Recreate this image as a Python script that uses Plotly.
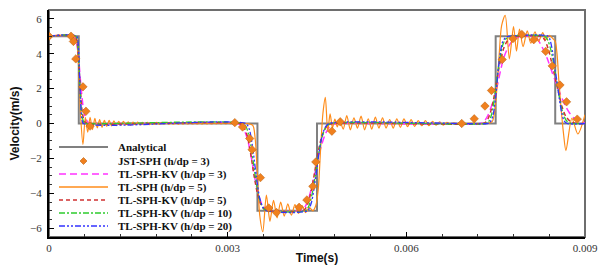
import plotly.graph_objects as go

# ---------------- data (time in microseconds, velocity in m/s) ----------------
ANALYTICAL_T = [0, 500, 500, 3500, 3500, 4500, 4500, 7500, 7500, 8500, 8500, 9000]
ANALYTICAL_V = [5, 5, 0, 0, -5, -5, 0, 0, 5, 5, 0, 0]

JST_T = [0, 370, 410, 450, 570, 620, 690, 3120, 3250, 3370, 3410, 3550, 3690, 3820,
         4200, 4330, 4430, 4480, 4750, 4890, 6930, 7140, 7320, 7430, 7610, 7790, 7940,
         8140, 8340, 8450, 8580, 8690, 8870]
JST_V = [5, 5, 4.7, 3.7, 2.1, 0.7, -0.15, 0.05, -0.2, -0.86, -1.5, -3.1, -4.84, -5.1,
         -4.8, -4.38, -3.6, -2.2, -0.44, 0.1, 0.0, 0.27, 1.0, 1.89, 3.66, 4.86, 5.1,
         4.8, 4.13, 3.3, 2.2, 1.24, 0.25]

KV3_T = [0, 420, 460, 500, 540, 580, 620, 670, 720, 3150, 3220, 3280, 3340, 3400, 3460,
         3520, 3580, 3640, 3720, 4200, 4280, 4340, 4400, 4460, 4520, 4580, 4640, 4700,
         4780, 4860, 7240, 7300, 7360, 7420, 7480, 7530, 7580, 7630, 7680, 7740, 7800,
         7880, 7960, 8150, 8200, 8260, 8320, 8380, 8440, 8500, 8560, 8620, 8680, 8740,
         8800, 8880, 9000]
KV3_V = [5, 5, 4.7, 3.6, 2.0, 0.8, 0.25, 0.03, 0, 0, -0.1, -0.4, -1.0, -2.0, -3.2,
         -4.1, -4.65, -4.9, -5, -5, -4.85, -4.5, -3.8, -2.9, -2.0, -1.2, -0.6, -0.25,
         -0.05, 0, 0, 0.1, 0.4, 0.9, 1.5, 2.2, 3.0, 3.7, 4.15, 4.55, 4.8,
         4.95, 5, 5, 4.85, 4.5, 4.1, 3.6, 3.0, 2.45, 1.9, 1.4, 0.95, 0.6,
         0.35, 0.15, 0.03]

TL_T = [0, 440, 470, 500, 530, 570, 610, 650, 690, 730, 770, 810, 850, 890, 930, 970,
        1010, 1050, 1090, 1130, 1170, 1210, 1250, 1290, 1330, 1370, 1410, 1450, 1490,
        1530, 1570, 1610, 1650, 1690, 1730, 1770, 1810, 1850, 1890, 1930, 1970, 2010,
        2050, 2090, 2130, 2170, 2210, 2250, 2290, 2330, 2370, 2410, 2450, 2490, 2530,
        2570, 2610, 2650, 2690, 2730, 2770, 2810, 2850, 2890, 2930, 2970, 3010, 3050,
        3100, 3150, 3300, 3420, 3460, 3500, 3540, 3590, 3650, 3710, 3770, 3830, 3890,
        3950, 4010, 4070, 4130, 4190, 4250, 4310, 4370, 4430, 4480, 4520, 4560, 4600,
        4640, 4680, 4720, 4760, 4800, 4840, 4880, 4940, 5000, 5060, 5120, 5180, 5240,
        5300, 5360, 5420, 5480, 5540, 5600, 5660, 5720, 5780, 5840, 5900, 5960, 6020,
        6080, 6140, 6200, 6260, 6320, 6380, 6440, 6500, 6560, 6620, 6680, 6740, 6800,
        6860, 6920, 6980, 7050, 7150, 7350, 7440, 7480, 7520, 7560, 7600, 7660, 7730,
        7800, 7850, 7900, 7960, 8030, 8090, 8160, 8220, 8290, 8340, 8400, 8450, 8500,
        8530, 8560, 8600, 8640, 8680, 8780, 8880, 9000]
TL_V = [5, 5, 4.7, 3.0, 0.5, -1.2, 0.35, -0.5, 0.35, -0.35, 0.3, -0.25, 0.22, -0.22, 0.18,
        -0.16, 0.18, -0.14, 0.15, -0.12, 0.12, -0.1, 0.12, -0.08, 0.09, -0.1, 0.08, -0.06,
        0.08, -0.08, 0.06, -0.05, 0.06, -0.06, 0.05, -0.04, 0.06, -0.05, 0.04, -0.04, 0.05,
        -0.04, 0.04, -0.04, 0.05, -0.04, 0.04, -0.04, 0.04, -0.03, 0.04, -0.03, 0.04,
        -0.03, 0.03, -0.03, 0.04, -0.02, 0.03, -0.03, 0.03, -0.02, 0.03, -0.02, 0.02,
        -0.02, 0.02, -0.01, 0.01, 0, 0, -0.1, -0.8, -3.0, -5.3, -6.2, -4.1, -5.6, -4.4,
        -5.4, -4.5, -5.3, -4.6, -5.25, -4.65, -5.15, -4.7, -5.1, -4.8, -5.0, -4.7, -3.8,
        -1.5, 0.6, 1.5, -0.45, 0.55, -0.25, 0.25, -0.2, 0.2, -0.32, 0.45, -0.36, 0.32, -0.26,
        0.42, -0.36, 0.27, -0.32, 0.36, -0.26, 0.32, -0.26, 0.23, -0.26, 0.26, -0.22, 0.26,
        -0.18, 0.22, -0.17, 0.17, -0.13, 0.17, -0.13, 0.13, -0.1, 0.1, -0.09, 0.07, -0.05,
        0.04, -0.04, 0.03, -0.02, 0.01, 0, 0, 0.1, 0.6, 2.0, 4.0, 5.6, 6.2, 3.7, 5.55, 4.15,
        5.4, 4.4, 5.3, 4.6, 5.25, 4.7, 5.2, 4.8, 5.05, 4.9, 4.7, 4.0, 2.5, 0.8, -0.6, -1.55,
        0.3, -0.6, 0.5]

KV5_T = [0, 440, 470, 500, 530, 560, 600, 650, 3200, 3260, 3320, 3380, 3440, 3500,
         3560, 3620, 3700, 4260, 4320, 4380, 4440, 4500, 4560, 4620, 4680, 4760, 7280,
         7340, 7400, 7460, 7520, 7580, 7640, 7700, 7780, 7860, 8260, 8320, 8380, 8440,
         8500, 8560, 8620, 8680, 8760, 8860, 9000]
KV5_V = [5, 5, 4.7, 3.4, 1.8, 0.6, 0.1, 0, 0, -0.15, -0.6, -1.6, -2.9, -4.0,
         -4.65, -4.92, -5, -5, -4.8, -4.2, -3.2, -2.0, -1.0, -0.4, -0.1, 0, 0,
         0.1, 0.5, 1.3, 2.5, 3.6, 4.35, 4.75, 4.95, 5, 5, 4.8, 4.3, 3.5,
         2.6, 1.7, 0.9, 0.4, 0.1, 0, 0]

KV10_T = [0, 450, 480, 505, 530, 555, 590, 630, 3250, 3310, 3370, 3430, 3490, 3550,
          3610, 3680, 4300, 4360, 4420, 4480, 4540, 4600, 4660, 4730, 7330, 7380, 7430,
          7480, 7530, 7580, 7630, 7700, 7780, 8320, 8370, 8420, 8470, 8520, 8570, 8620,
          8680, 8750, 9000]
KV10_V = [5, 5, 4.6, 3.2, 1.5, 0.4, 0.05, 0, 0, -0.2, -0.9, -2.2, -3.6, -4.5,
          -4.9, -5, -5, -4.75, -4.0, -2.8, -1.5, -0.6, -0.15, 0, 0, 0.1, 0.5,
          1.5, 2.8, 3.9, 4.6, 4.93, 5, 5, 4.8, 4.3, 3.5, 2.5, 1.5, 0.7,
          0.2, 0.02, 0]

KV20_T = [0, 460, 490, 510, 530, 550, 580, 3300, 3360, 3420, 3480, 3540, 3600, 3660,
          4340, 4400, 4460, 4520, 4580, 4640, 4700, 7360, 7400, 7450, 7500, 7540, 7580,
          7620, 7680, 7740, 8380, 8420, 8460, 8500, 8530, 8570, 8610, 8650, 8700, 9000]
KV20_V = [5, 5, 4.5, 3.0, 1.3, 0.3, 0, 0, -0.3, -1.4, -3.0, -4.3, -4.85, -5,
          -5, -4.6, -3.5, -2.0, -0.8, -0.2, 0, 0, 0.05, 0.4, 1.5, 3.0, 4.1,
          4.7, 4.95, 5, 5, 4.7, 4.0, 3.0, 2.4, 1.4, 0.6, 0.15, 0, 0]

X_TICKS = [0, 0.003, 0.006, 0.009]
X_TICK_TEXT = ["0", "0.003", "0.006", "0.009"]
Y_TICKS = [-6, -4, -2, 0, 2, 4, 6]

US = 1e-6
def sec(lst):
    return [v * US for v in lst]

# ---------------- styles ----------------
SERIES = [
    ("TL-SPH-KV (h/dp = 3)", KV3_T, KV3_V, "#FF33FF", "7px,4px", 1.5),
    ("TL-SPH (h/dp = 5)", TL_T, TL_V, "#FF8C1A", "solid", 1.2),
    ("TL-SPH-KV (h/dp = 5)", KV5_T, KV5_V, "#D03030", "4px,3px", 1.5),
    ("TL-SPH-KV (h/dp = 10)", KV10_T, KV10_V, "#2ECC2E", "6px,2px,2px,2px", 1.3),
    ("TL-SPH-KV (h/dp = 20)", KV20_T, KV20_V, "#3333FF", "6px,2px,2px,2px,2px,2px", 1.3),
]

fig = go.Figure()
fig.add_trace(go.Scatter(x=sec(ANALYTICAL_T), y=ANALYTICAL_V, mode="lines",
                         name="Analytical", line=dict(color="#808080", width=2),
                         showlegend=False))
for name, t, v, color, dash, width in SERIES:
    fig.add_trace(go.Scatter(x=sec(t), y=v, mode="lines", name=name,
                             line=dict(color=color, dash=dash, width=width,
                                       shape="spline", smoothing=0.8),
                             showlegend=False))
fig.add_trace(go.Scatter(x=sec(JST_T), y=JST_V, mode="markers", name="JST-SPH (h/dp = 3)",
                         marker=dict(symbol="diamond", size=6.5, color="#F0801E",
                                     line=dict(color="#B86010", width=0.5)),
                         showlegend=False))

# ---------------- layout geometry ----------------
W, H = 598, 268
L, R, T, B = 49, 13, 10, 31
PW, PH = W - L - R, H - T - B

def px(x):
    return (x - L) / PW

def py(y):
    return (H - B - y) / PH

shapes = [dict(type="rect", xref="paper", yref="paper", x0=0, x1=1, y0=0, y1=1,
               line=dict(color="#6E6E6E", width=2), layer="below")]
annotations = []

LEG_ROWS = [147, 161, 174, 187, 200, 213, 226]
LEG_ITEMS = [
    ("Analytical", "#808080", "solid", 2, "line"),
    ("JST-SPH (h/dp = 3)", "#F0801E", None, 0, "diamond"),
    ("TL-SPH-KV (h/dp = 3)", "#FF33FF", "7px,4px", 1.5, "line"),
    ("TL-SPH (h/dp = 5)", "#FF8C1A", "solid", 1.5, "line"),
    ("TL-SPH-KV (h/dp = 5)", "#D03030", "4px,3px", 1.5, "line"),
    ("TL-SPH-KV (h/dp = 10)", "#2ECC2E", "6px,2px,2px,2px", 1.3, "line"),
    ("TL-SPH-KV (h/dp = 20)", "#3333FF", "6px,2px,2px,2px,2px,2px", 1.3, "line"),
]
for yrow, (label, color, dash, width, kind) in zip(LEG_ROWS, LEG_ITEMS):
    if kind == "line":
        shapes.append(dict(type="line", xref="paper", yref="paper",
                           x0=px(59), x1=px(108), y0=py(yrow), y1=py(yrow),
                           line=dict(color=color, width=width, dash=dash)))
    else:
        cx, cy, s = 83.5, yrow, 3.5
        path = (f"M {px(cx - s)},{py(cy)} L {px(cx)},{py(cy - s)} "
                f"L {px(cx + s)},{py(cy)} L {px(cx)},{py(cy + s)} Z")
        shapes.append(dict(type="path", xref="paper", yref="paper", path=path,
                           fillcolor=color, line=dict(color="#B86010", width=0.6)))
    annotations.append(dict(xref="paper", yref="paper", x=px(116), y=py(yrow),
                            xanchor="left", yanchor="middle", showarrow=False,
                            text=f"<b>{label}</b>",
                            font=dict(family="Liberation Serif", size=11, color="#111")))

fig.update_layout(
    width=W, height=H,
    margin=dict(l=L, r=R, t=T, b=B, pad=0, autoexpand=False),
    paper_bgcolor="white", plot_bgcolor="white",
    showlegend=False, hovermode=False,
    shapes=shapes, annotations=annotations,
    font=dict(family="Liberation Serif", size=11, color="#333"),
)
fig.update_xaxes(range=[0, 0.009], tickvals=X_TICKS, ticktext=X_TICK_TEXT,
                 automargin=False,
                 showgrid=False, zeroline=False, showline=True, linecolor="black",
                 linewidth=2, ticks="inside", ticklen=5, tickwidth=1, tickcolor="black",
                 minor=dict(dtick=0.0006, ticks="inside", ticklen=3, tickcolor="#333"),
                 tickfont=dict(family="Liberation Serif", size=11, color="#333"),
                 title=dict(text="<b>Time(s)</b>", standoff=0,
                            font=dict(family="Liberation Sans", size=12, color="#111")))
fig.update_yaxes(range=[-6.5, 6.5], tickvals=Y_TICKS,
                 automargin=False,
                 showgrid=False, zeroline=False, showline=True, linecolor="black",
                 linewidth=2, ticks="inside", ticklen=5, tickwidth=1, tickcolor="black",
                 minor=dict(dtick=0.5, ticks="inside", ticklen=3, tickcolor="#333"),
                 tickfont=dict(family="Liberation Serif", size=11, color="#333"),
                 ticklabelstandoff=3,
                 title=dict(text="<b>Velocity(m/s)</b>", standoff=8,
                            font=dict(family="Liberation Sans", size=12, color="#111")))

fig.write_html("out.html", config={"displayModeBar": False},
               post_script="document.body.style.margin='0';document.body.style.overflow='hidden';")
